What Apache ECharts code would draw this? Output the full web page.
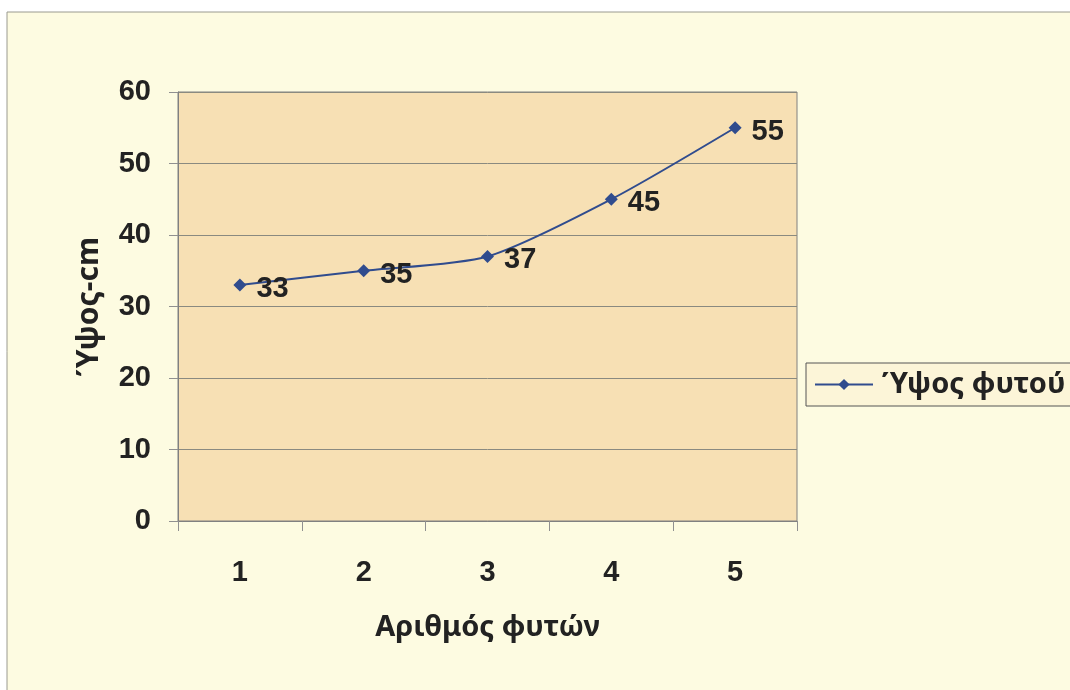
<!DOCTYPE html>
<html>
<head>
<meta charset="utf-8">
<script src="https://cdn.jsdelivr.net/npm/echarts@6/dist/echarts.min.js"></script>
<style>
  html, body { margin: 0; padding: 0; background: #ffffff; }
  #chart { width: 1070px; height: 690px; }
</style>
</head>
<body>
<div id="chart"></div>
<script>
// Plant heights by plant number
const categories = ['1', '2', '3', '4', '5'];
const heights = [33, 35, 37, 45, 55];
const seriesName = 'Ύψος φυτού';
const xTitle = 'Αριθμός φυτών';
const yTitle = 'Ύψος-cm';

const numFont = '"Liberation Sans", Arial, sans-serif';
const titleFont = '"Noto Sans", "DejaVu Sans", sans-serif';

const chart = echarts.init(document.getElementById('chart'));
chart.setOption({
  backgroundColor: '#ffffff',
  animation: false,
  graphic: [{
    type: 'rect',
    z: -10,
    shape: { x: 7, y: 12, width: 1100, height: 700 },
    style: { fill: '#fdfbe1', stroke: '#9a9a90', lineWidth: 1 }
  }],
  grid: {
    left: 178, top: 92, width: 619, height: 429,
    show: true,
    backgroundColor: '#f7e0b4',
    borderColor: '#808080',
    borderWidth: 1
  },
  legend: {
    left: 806, top: 363,
    orient: 'horizontal',
    padding: [7, 40, 7, 8],
    itemWidth: 58, itemHeight: 14,
    itemGap: 4,
    borderColor: '#555555',
    borderWidth: 1,
    backgroundColor: '#fcf5d8',
    textStyle: { fontFamily: titleFont, fontWeight: 'bold', fontSize: 29, color: '#222222', padding: [0, 0, 0, 4] },
    data: [seriesName]
  },
  xAxis: {
    type: 'category',
    data: categories,
    boundaryGap: true,
    name: xTitle,
    nameLocation: 'middle',
    nameGap: 92,
    nameTextStyle: { fontFamily: titleFont, fontWeight: 'bold', fontSize: 29, color: '#222222' },
    axisLine: { lineStyle: { color: '#808080', width: 1 } },
    axisTick: { show: true, length: 10, lineStyle: { color: '#909090' } },
    axisLabel: { margin: 37, fontFamily: numFont, fontWeight: 'bold', fontSize: 29, color: '#222222' }
  },
  yAxis: {
    type: 'value',
    min: 0, max: 60, interval: 10,
    name: yTitle,
    nameLocation: 'middle',
    nameGap: 74,
    nameRotate: 90,
    nameTextStyle: { fontFamily: titleFont, fontWeight: 'bold', fontSize: 30, color: '#222222' },
    axisLine: { show: true, lineStyle: { color: '#808080', width: 1 } },
    axisTick: { show: true, length: 9, lineStyle: { color: '#909090' } },
    axisLabel: { margin: 27, fontFamily: numFont, fontWeight: 'bold', fontSize: 29, color: '#222222' },
    splitLine: { show: true, lineStyle: { color: '#8a8a80', width: 1 } }
  },
  series: [{
    name: seriesName,
    type: 'line',
    data: heights,
    smooth: 0.25,
    symbol: 'diamond',
    symbolSize: 13,
    color: '#304c8e',
    lineStyle: { color: '#304c8e', width: 2 },
    itemStyle: { color: '#304c8e' },
    label: {
      show: true,
      position: 'right',
      distance: 10,
      offset: [0, 4],
      fontFamily: numFont,
      fontWeight: 'bold',
      fontSize: 29,
      color: '#222222'
    }
  }]
});
</script>
</body>
</html>
